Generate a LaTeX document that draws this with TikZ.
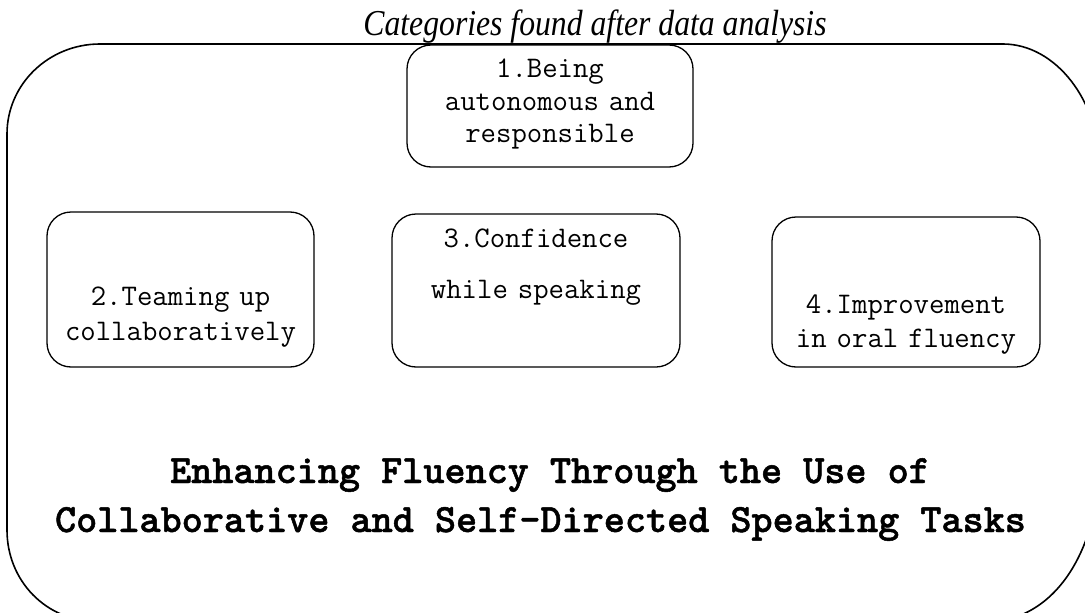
\documentclass[tikz,border=0pt]{standalone}
\usepackage{fontspec}
\setmainfont{Liberation Serif}
\newfontfamily\monofont{Latin Modern Mono}[WordSpace={1,0,0}]
\newfontfamily\boldmono{lmmonolt10-bold.otf}[WordSpace={1,0,0},FakeBold=1.2]
\begin{document}
\begin{tikzpicture}[x=1pt,y=-1pt,
  frame/.style={draw=black,line width=1.6pt},
  catbox/.style={draw=black,line width=1.3pt,rectangle,rounded corners=24pt,inner sep=0pt},
  cattext/.style={font=\monofont\fontsize{29.9}{#1}\selectfont,text width=340pt,align=center,inner sep=0pt,anchor=base},
  headline/.style={font=\boldmono\fontsize{40.2}{48}\selectfont,inner sep=0pt,anchor=base}]
\useasboundingbox (0,0) rectangle (1085,613);
\clip (0,0) rectangle (1085,613);

% caption above the frame
\node[font=\itshape\fontsize{31.7}{38}\selectfont,inner sep=0pt,anchor=base] (caption) at (595,35)
  {\scalebox{1}[1.15]{Categories found after data analysis}};

% large rounded frame (its right and bottom sides run past the page edge)
\draw[frame] (100,44) -- (1003,44)
  .. controls (1055,44) and (1100,100) .. (1100,170)
  -- (1100,455)
  .. controls (1100,550) and (1055,622) .. (985,622)
  -- (100,622)
  .. controls (45,622) and (7,580) .. (7,530)
  -- (7,134)
  .. controls (7,84.3) and (48.6,44) .. (100,44) -- cycle;

% category boxes
\node[catbox,minimum width=286pt,minimum height=122pt] (b1) at (550,106) {};
\node[catbox,minimum width=267pt,minimum height=155pt] (b2) at (180.5,289.5) {};
\node[catbox,minimum width=288pt,minimum height=153pt] (b3) at (536,290.5) {};
\node[catbox,minimum width=268pt,minimum height=150pt] (b4) at (906,292) {};

% category labels
\node[cattext=33] (t1) at (550,77) {1.Being\\autonomous and\\responsible};
\node[cattext=35] (t2) at (180.5,305) {2.Teaming up\\collaboratively};
\node[cattext=51] (t3) at (536,247) {3.Confidence\\while speaking};
\node[cattext=34] (t4) at (906,313) {4.Improvement\\in oral fluency};

% main theme
\node[headline] (m1) at (550,483) {Enhancing Fluency Through the Use of};
\node[headline] (m2) at (540.5,532) {Collaborative and Self-Directed Speaking Tasks};
\end{tikzpicture}
\end{document}
